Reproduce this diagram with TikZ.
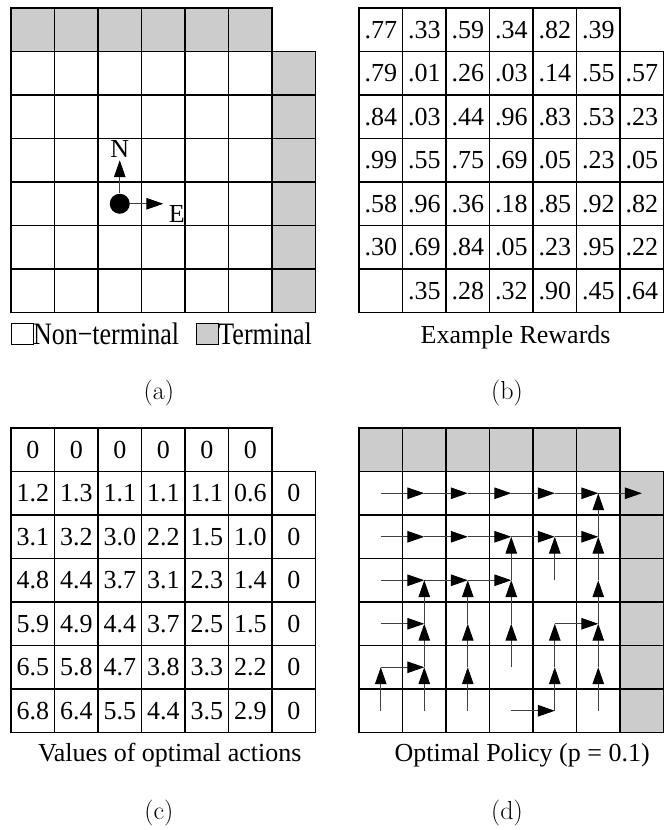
\documentclass[tikz,border=0pt]{standalone}
\usepackage{fontspec}
\newfontfamily\timesfont{Liberation Serif}
\usetikzlibrary{arrows.meta, positioning, calc}

\tikzset{
  cell/.style={draw=black, line width=0.7pt},
  term/.style={cell, fill=gray!40},
  val/.style={font=\timesfont\fontsize{17}{20}\selectfont, inner sep=0pt},
  capt/.style={font=\timesfont\fontsize{17}{20}\selectfont},
  keytext/.style={capt, yscale=1.2, anchor=base west, inner sep=0pt},
  sublabel/.style={font=\fontsize{17}{20}\selectfont},
  move/.style={draw=black!75, line width=0.6pt, -{Triangle[length=11pt, width=7.5pt, black]}},
}

\begin{document}
\begin{tikzpicture}
  \useasboundingbox (-0.253,-11.896) rectangle (15.034,7.184);

  % (a) the grid world
  \foreach \c in {0,...,5} \draw[term] (\c,6) rectangle ++(1,1);
  \foreach \r in {0,...,5} {
    \foreach \c in {0,...,5} \draw[cell] (\c,\r) rectangle ++(1,1);
    \draw[term] (6,\r) rectangle ++(1,1);
  }
  \node[circle, fill=black, minimum size=0.46cm, inner sep=0pt] (agent) at (2.5,2.5) {};
  \coordinate (north) at (2.5,3.5);
  \coordinate (east) at (3.5,2.5);
  \draw[move] (agent) -- (north);
  \draw[move] (agent) -- (east);
  \node[capt, anchor=base, inner sep=0pt] (nlab) at (2.5,3.56) {N};
  \node[capt, anchor=north west, inner sep=0pt] (elab) at (3.62,2.47) {E};

  % legend
  \node[cell, line width=0.5pt, minimum width=0.5cm, minimum height=0.48cm, inner sep=0pt, anchor=north west] (keyfree) at (0,-0.24) {};
  \node[keytext] (keyfreetxt) at (0.5,-0.74) {Non−terminal};
  \node[term, line width=0.5pt, minimum width=0.5cm, minimum height=0.48cm, inner sep=0pt, anchor=north west] (keyterm) at (4.25,-0.24) {};
  \node[keytext] (keytermtxt) at (4.76,-0.74) {Terminal};
  \node[sublabel] (laba) at (3.4,-1.84) {(a)};

  % (b) rewards
  \begin{scope}[shift={(8,0)}]
    \foreach \c in {0,...,5} \draw[cell] (\c,6) rectangle ++(1,1);
    \foreach \r in {0,...,5}
      \foreach \c in {0,...,6} \draw[cell] (\c,\r) rectangle ++(1,1);
    \foreach \row [count=\r from 0] in {
        {.77,.33,.59,.34,.82,.39},
        {.79,.01,.26,.03,.14,.55,.57},
        {.84,.03,.44,.96,.83,.53,.23},
        {.99,.55,.75,.69,.05,.23,.05},
        {.58,.96,.36,.18,.85,.92,.82},
        {.30,.69,.84,.05,.23,.95,.22},
        {{},.35,.28,.32,.90,.45,.64}}
      \foreach \v [count=\c from 0] in \row
        \node[val] (rew-\r-\c) at (\c+0.5,6.5-\r) {\v};
    \node[capt] (captb) at (3.6,-0.57) {Example Rewards};
    \node[sublabel] (labb) at (3.4,-1.84) {(b)};
  \end{scope}

  % (c) values
  \begin{scope}[shift={(0,-9.655)}]
    \foreach \c in {0,...,5} \draw[cell] (\c,6) rectangle ++(1,1);
    \foreach \r in {0,...,5}
      \foreach \c in {0,...,6} \draw[cell] (\c,\r) rectangle ++(1,1);
    \foreach \row [count=\r from 0] in {
        {0,0,0,0,0,0},
        {1.2,1.3,1.1,1.1,1.1,0.6,0},
        {3.1,3.2,3.0,2.2,1.5,1.0,0},
        {4.8,4.4,3.7,3.1,2.3,1.4,0},
        {5.9,4.9,4.4,3.7,2.5,1.5,0},
        {6.5,5.8,4.7,3.8,3.3,2.2,0},
        {6.8,6.4,5.5,4.4,3.5,2.9,0}}
      \foreach \v [count=\c from 0] in \row
        \node[val] (val-\r-\c) at (\c+0.5,6.5-\r) {\v};
    \node[capt] (captc) at (3.65,-0.52) {Values of optimal actions};
    \node[sublabel] (labc) at (3.4,-1.85) {(c)};
  \end{scope}

  % (d) policy
  \begin{scope}[shift={(8,-9.655)}]
    \foreach \c in {0,...,5} \draw[term] (\c,6) rectangle ++(1,1);
    \foreach \r in {0,...,5} {
      \foreach \c in {0,...,5} \draw[cell] (\c,\r) rectangle ++(1,1);
      \draw[term] (6,\r) rectangle ++(1,1);
    }
    \foreach \r in {0,...,6}
      \foreach \c in {0,...,6} \coordinate (p-\r-\c) at (\c+0.5,6.5-\r);
    % moves east
    \foreach \r/\c [evaluate=\c as \cc using int(\c+1)] in
        {1/0,1/1,1/2,1/3,1/4,1/5,2/0,2/1,2/2,2/3,2/4,3/0,3/1,3/2,4/0,4/4,5/0,6/3}
      \draw[move] (p-\r-\c) -- (p-\r-\cc);
    % moves north
    \foreach \r/\c [evaluate=\r as \rr using int(\r-1)] in
        {2/5,3/3,3/4,3/5,4/1,4/2,4/3,4/5,5/1,5/2,5/3,5/4,5/5,6/0,6/1,6/2,6/4,6/5}
      \draw[move] (p-\r-\c) -- (p-\rr-\c);
    \node[capt] (captd) at (3.75,-0.52) {Optimal Policy (p = 0.1)};
    \node[sublabel] (labd) at (3.4,-1.85) {(d)};
  \end{scope}
\end{tikzpicture}
\end{document}
